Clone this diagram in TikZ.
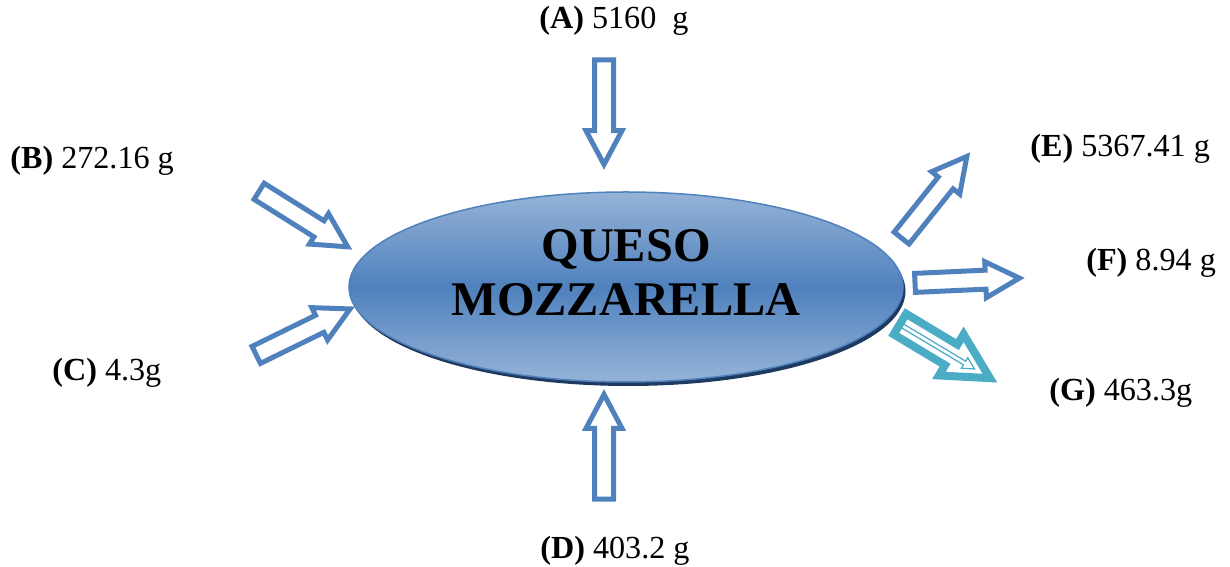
\documentclass[tikz,border=0pt]{standalone}
\usepackage{fontspec}
\setmainfont{Liberation Serif}
\usetikzlibrary{shapes.geometric,shapes.arrows,shadows}

\definecolor{flowblue}{HTML}{4F81BD}
\definecolor{paleblue}{HTML}{95B3D7}
\definecolor{deepblue}{HTML}{1F3A60}
\definecolor{wasteteal}{HTML}{4BACC6}

\begin{document}
\begin{tikzpicture}[x=0.2mm, y=-0.2mm,
        cheese/.style = {ellipse, draw=flowblue, line width=0.3mm, inner sep=0pt,
            minimum width=110.8mm, minimum height=38mm,
            top color=paleblue, bottom color=paleblue, middle color=flowblue,
            drop shadow={shadow xshift=0.5mm, shadow yshift=-0.8mm, fill=deepblue, opacity=1}},
        flow/.style = {single arrow, draw=flowblue, fill=white, line width=1mm,
            inner xsep=0pt, inner ysep=1.4mm, single arrow head extend=1.7mm,
            single arrow tip angle=56, minimum height=20.9mm,
            pos=0, anchor=tail, sloped, allow upside down},
        waste/.style = {single arrow, draw=wasteteal, fill=white, line width=1.6mm,
            inner xsep=0pt, inner ysep=1.6mm, single arrow head extend=2.4mm,
            single arrow tip angle=56, minimum height=21mm,
            pos=0, anchor=tail, sloped, allow upside down},
        wastein/.style = {single arrow, draw=wasteteal, line width=0.25mm,
            inner xsep=0pt, inner ysep=0.3mm, single arrow head extend=0.8mm,
            single arrow tip angle=56, minimum height=17mm,
            pos=0, anchor=tail, sloped, allow upside down},
        amount/.style = {anchor=base west, inner sep=0pt, font=\fontsize{18.3}{22}\selectfont}]

    \useasboundingbox (0,0) rectangle (1230,567);

    % Cheese
    \node[cheese] (Q) at (626,287) {};
    \node[align=center, font=\fontsize{27.5}{31}\selectfont\bfseries] (title) at (626,273) {QUESO\\MOZZARELLA};

    % Arrow ends
    \coordinate (tA) at (604,57.5);  \coordinate (hA) at (604,166);
    \coordinate (tB) at (257,190);   \coordinate (hB) at (348,247);
    \coordinate (tC) at (254,356);   \coordinate (hC) at (352,308);
    \coordinate (tD) at (604,501.5); \coordinate (hD) at (604,392);
    \coordinate (tE) at (900,240);   \coordinate (hE) at (968,155);
    \coordinate (tF) at (912.5,283); \coordinate (hF) at (1022,278);
    \coordinate (tG) at (896.5,322); \coordinate (hG) at (998,383);
    \coordinate (iG) at (901,325);

    % Inputs
    \path (tA) -- (hA) node[flow] (arrA) {};
    \path (tB) -- (hB) node[flow] (arrB) {};
    \path (tC) -- (hC) node[flow] (arrC) {};
    \path (tD) -- (hD) node[flow] (arrD) {};

    % Outputs
    \path (tE) -- (hE) node[flow] (arrE) {};
    \path (tF) -- (hF) node[flow] (arrF) {};
    \path (tG) -- (hG) node[waste] (arrG) {};
    \path (iG) -- (hG) node[wastein] (arrGin) {};

    % Amounts
    \node[amount] (A) at (539,29)  {\textbf{(A)} 5160\ \ g};
    \node[amount] (B) at (10,169)  {\textbf{(B)} 272.16 g};
    \node[amount] (C) at (52,381)  {\textbf{(C)} 4.3g};
    \node[amount] (D) at (540,558) {\textbf{(D)} 403.2 g};
    \node[amount] (E) at (1030,157) {\textbf{(E)} 5367.41 g};
    \node[amount] (F) at (1086,271) {\textbf{(F)} 8.94 g};
    \node[amount] (G) at (1049,401) {\textbf{(G)} 463.3g};

\end{tikzpicture}
\end{document}
